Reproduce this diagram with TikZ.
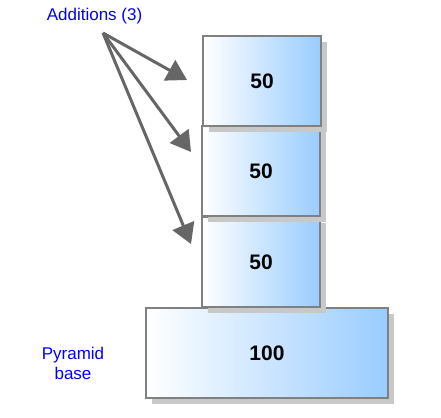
\documentclass[tikz,border=0pt]{standalone}
\usepackage{fontspec}
\setmainfont{Liberation Sans}
\usetikzlibrary{arrows.meta,shadows}
\definecolor{boxblue}{RGB}{153,204,255}
\definecolor{edgegray}{RGB}{128,128,128}
\definecolor{arrowgray}{RGB}{102,102,102}
\definecolor{shadowgray}{RGB}{200,200,200}
\tikzset{
  block/.style={rectangle, draw=edgegray, line width=1.5pt, inner sep=0pt,
    left color=white, right color=boxblue, shading angle=90,
    minimum height=90pt, font=\fontsize{21}{23}\selectfont\bfseries,
    drop shadow={shadow xshift=6pt, shadow yshift=-6pt, fill=shadowgray, opacity=1}},
  lbl/.style={text=blue, font=\fontsize{17}{20}\selectfont, align=center, inner sep=0pt},
  addarrow/.style={draw=arrowgray, line width=3pt, -{Triangle[length=20pt,width=23pt]}}
}
\begin{document}
\begin{tikzpicture}[x=1pt,y=-1pt]
\useasboundingbox (0,0) rectangle (441,417);
\node[block, minimum width=242pt] (base) at (267,353) {100};
\node[block, minimum width=118pt] (b3) at (261,262) {50};
\node[block, minimum width=118pt] (b2) at (261,171) {50};
\node[block, minimum width=118pt] (b1) at (262,81) {50};
\node[lbl] (add) at (94.5,16) {Additions (3)};
\node[lbl] (pyr) at (73,363) {Pyramid\\base};
\coordinate (src) at (103,33);
\coordinate (t1) at (187,80);
\coordinate (t2) at (191,152);
\coordinate (t3) at (191,244);
\draw[addarrow] (src) -- (t1);
\draw[addarrow] (src) -- (t2);
\draw[addarrow] (src) -- (t3);
\end{tikzpicture}
\end{document}
